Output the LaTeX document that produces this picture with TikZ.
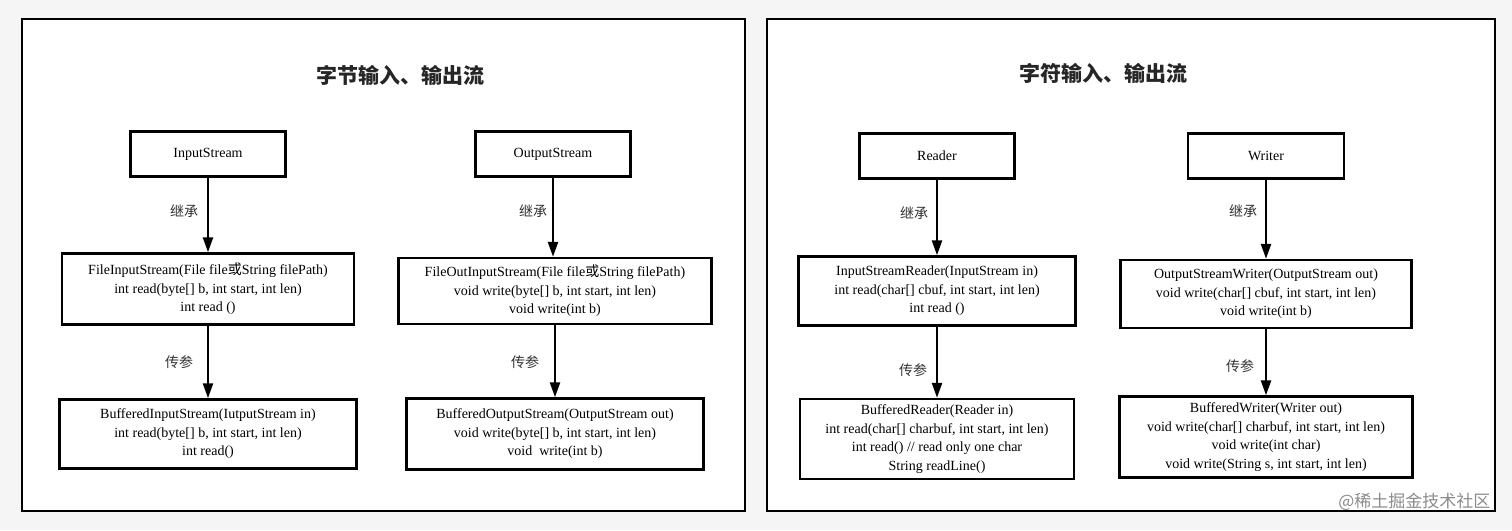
\documentclass[tikz,border=0pt]{standalone}
\usepackage{fontspec}
\setmainfont{Liberation Serif}
\newfontfamily\cjk{Noto Sans CJK SC}
\usetikzlibrary{arrows.meta}
\begin{document}
\begin{tikzpicture}[x=1pt,y=-1pt,
  box/.style={draw,line width=2.4pt,align=center,inner sep=0pt,font=\fontsize{14}{18.5}\selectfont},
  lab/.style={font=\cjk\fontsize{14}{16}\selectfont,text=black!80},
  arr/.style={line width=2.4pt,-{Triangle[length=15pt,width=10pt]}},
  frame/.style={draw,line width=2pt,fill=white},
  ttl/.style={font=\cjk\bfseries\fontsize{21}{24}\selectfont,text=black!85}]
\useasboundingbox[fill=black!4] (0,0) rectangle (1512,530);
\draw[frame] (22,19) rectangle (745,511);
\draw[frame] (767,19) rectangle (1495,511);
\node[ttl] (t1) at (400,75) {字节输入、输出流};
\node[ttl] (t2) at (1103,73) {字符输入、输出流};
% left
\node[box,minimum width=155pt,minimum height=45pt] (is) at (208,154) {InputStream};
\node[box,minimum width=292pt,minimum height=71pt] (fis) at (208,289) {FileInputStream(File file{\cjk 或}String filePath)\\int read(byte[] b, int start, int len)\\int read ()};
\node[box,minimum width=297pt,minimum height=69pt] (bis) at (208,434) {BufferedInputStream(IutputStream in)\\int read(byte[] b, int start, int len)\\int read()};
\node[box,minimum width=155pt,minimum height=45pt] (os) at (553,154) {OutputStream};
\node[box,minimum width=313pt,minimum height=66pt] (fos) at (555,291) {FileOutInputStream(File file{\cjk 或}String filePath)\\void write(byte[] b, int start, int len)\\void write(int b)};
\node[box,minimum width=297pt,minimum height=71pt] (bos) at (555,434) {BufferedOutputStream(OutputStream out)\\void write(byte[] b, int start, int len)\\void\ \ write(int b)};
% right
\node[box,minimum width=155pt,minimum height=45pt] (rd) at (937,156) {Reader};
\node[box,minimum width=277pt,minimum height=69pt] (isr) at (937,291) {InputStreamReader(InputStream in)\\int read(char[] cbuf, int start, int len)\\int read ()};
\node[box,minimum width=274pt,minimum height=80pt] (br) at (937,439) {BufferedReader(Reader in)\\int read(char[] charbuf, int start, int len)\\int read() // read only one char\\String readLine()};
\node[box,minimum width=156pt,minimum height=45pt] (wr) at (1266,156) {Writer};
\node[box,minimum width=291pt,minimum height=68pt] (osw) at (1266,294) {OutputStreamWriter(OutputStream out)\\void write(char[] cbuf, int start, int len)\\void write(int b)};
\node[box,minimum width=293pt,minimum height=81pt] (bw) at (1266,437) {BufferedWriter(Writer out)\\void write(char[] charbuf, int start, int len)\\void write(int char)\\void write(String s, int start, int len)};
\draw[arr] (is) -- (fis);
\draw[arr] (fis) -- (bis);
\draw[arr] (os.south) -- (os.south |- fos.north);
\draw[arr] (fos) -- (bos);
\draw[arr] (rd) -- (isr);
\draw[arr] (isr) -- (br);
\draw[arr] (wr) -- (osw);
\draw[arr] (osw) -- (bw);
\node[lab] (l1) at (184,211) {继承};
\node[lab] (l2) at (179,362) {传参};
\node[lab] (l3) at (533,211) {继承};
\node[lab] (l4) at (525,362) {传参};
\node[lab] (l5) at (914,213) {继承};
\node[lab] (l6) at (913,370) {传参};
\node[lab] (l7) at (1243,211) {继承};
\node[lab] (l8) at (1240,366) {传参};
\node[font=\cjk\fontsize{17}{19}\selectfont,text=black!45,anchor=east] (wm) at (1494,502) {@稀土掘金技术社区};
\end{tikzpicture}
\end{document}
